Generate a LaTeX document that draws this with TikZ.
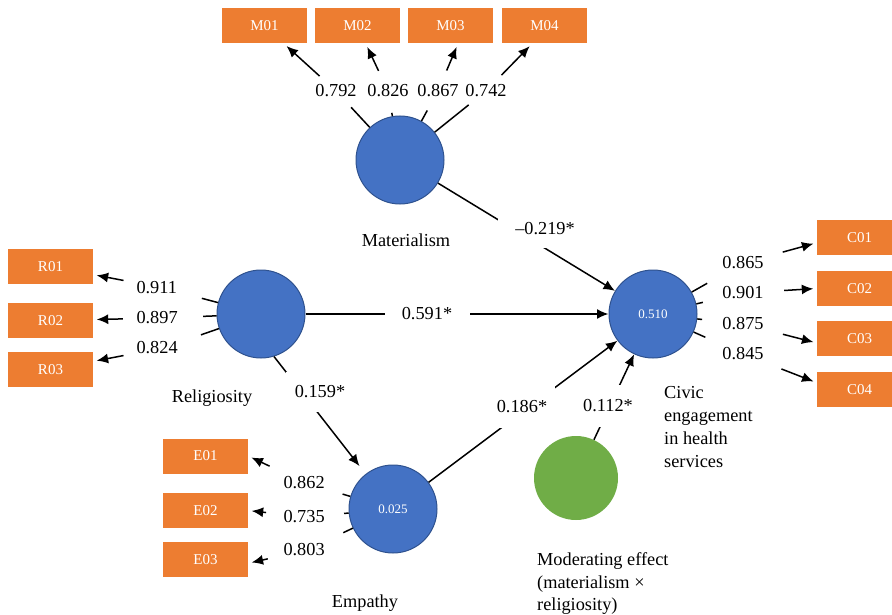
\documentclass[tikz,border=0pt]{standalone}
\usepackage{fontspec}
\setmainfont{Liberation Serif}
\usetikzlibrary{arrows.meta}
\definecolor{orgc}{HTML}{ED7D31}
\definecolor{bluec}{HTML}{4472C4}
\definecolor{blueb}{HTML}{2F528F}
\definecolor{greenc}{HTML}{70AD47}
\newcommand{\mainsz}{\fontsize{18.3pt}{22.7pt}\selectfont}
\newcommand{\boxsz}{\fontsize{15pt}{18pt}\selectfont}
\newcommand{\latsz}{\fontsize{13pt}{15pt}\selectfont}
\tikzset{
  ind/.style={rectangle, fill=orgc, minimum width=85pt, minimum height=35pt, inner sep=0pt, text=white, font=\boxsz},
  lat/.style={circle, fill=bluec, draw=blueb, line width=1pt, minimum size=88pt, inner sep=0pt, text=white, font=\latsz},
  modc/.style={circle, fill=greenc, minimum size=84pt, inner sep=0pt},
  ld/.style={circle, inner sep=0pt, font=\mainsz},
  plbl/.style={rectangle, fill=white, inner sep=0pt, font=\mainsz},
  ln/.style={line width=1.5pt},
  arr/.style={line width=1.5pt, -{Latex[length=11.5pt,width=10pt]}},
  ldarr/.style={arr, shorten >=3.5pt},
  nm/.style={font=\mainsz, inner sep=0pt}
}
\begin{document}
\begin{tikzpicture}[x=1pt,y=-1pt]
\useasboundingbox (0,0) rectangle (892,615);

% indicator boxes
\node[ind] (M01) at (264.5,26) {M01};
\node[ind] (M02) at (357.5,26) {M02};
\node[ind] (M03) at (450.5,26) {M03};
\node[ind] (M04) at (544.5,26) {M04};
\node[ind] (R01) at (50.5,266.5) {R01};
\node[ind] (R02) at (50.5,320.5) {R02};
\node[ind] (R03) at (50.5,369.5) {R03};
\node[ind] (C01) at (859.5,237.5) {C01};
\node[ind] (C02) at (859.5,288.5) {C02};
\node[ind] (C03) at (859.5,338.5) {C03};
\node[ind] (C04) at (859.5,389.5) {C04};
\node[ind] (E01) at (205.5,456) {E01};
\node[ind] (E02) at (205.5,510.5) {E02};
\node[ind] (E03) at (205.5,559.5) {E03};

% latent variables
\node[lat] (Mat) at (400,160) {};
\node[lat] (Rel) at (261,314) {};
\node[lat] (Civ) at (653,314) {0.510};
\node[lat] (Emp) at (393,509) {0.025};
\node[modc] (Mod) at (576,478) {};

% loading labels
\node[ld, minimum size=44pt] (m1) at (336,91) {0.792};
\node[ld, minimum size=44pt] (m2) at (388,91) {0.826};
\node[ld, minimum size=44pt] (m3) at (438,91) {0.867};
\node[ld, minimum size=44pt] (m4) at (486,91) {0.742};
\node[ld, minimum size=80pt] (r1) at (163,288) {\makebox[53pt][l]{0.911}};
\node[ld, minimum size=80pt] (r2) at (163,318) {\makebox[53pt][l]{0.897}};
\node[ld, minimum size=80pt] (r3) at (163,348) {\makebox[53pt][l]{0.824}};
\node[ld, minimum size=82pt] (c1) at (743,263) {0.865};
\node[ld, minimum size=82pt] (c2) at (743,293) {0.901};
\node[ld, minimum size=82pt] (c3) at (743,324) {0.875};
\node[ld, minimum size=82pt] (c4) at (743,354) {0.845};
\node[ld, minimum size=78pt] (e1) at (305,483) {\makebox[43pt][l]{0.862}};
\node[ld, minimum size=78pt] (e2) at (305,517) {\makebox[43pt][l]{0.735}};
\node[ld, minimum size=80pt] (e3) at (307,550) {\makebox[47pt][l]{0.803}};

% loading connectors
\draw[ln] (Mat) -- (m1); \draw[ldarr] (m1) -- (M01);
\draw[ln] (Mat) -- (m2); \draw[ldarr] (m2) -- (M02);
\draw[ln] (Mat) -- (m3); \draw[ldarr] (m3) -- (M03.-67);
\draw[ln] (Mat) -- (m4); \draw[ldarr] (m4) -- (M04.-125);
\draw[ln] (Rel) -- (r1); \draw[ldarr] (r1) -- (R01);
\draw[ln] (Rel) -- (r2); \draw[ldarr] (r2) -- (R02);
\draw[ln] (Rel) -- (r3); \draw[ldarr] (r3) -- (R03);
\draw[ln] (Civ) -- (c1); \draw[ldarr] (c1) -- (C01.187);
\draw[ln] (Civ) -- (c2); \draw[ldarr] (c2) -- (C02.west);
\draw[ln] (Civ) -- (c3); \draw[ldarr] (c3) -- (C03.186);
\draw[ln] (Civ) -- (c4); \draw[ldarr] (c4) -- (C04.171);
\draw[ln] (Emp) -- (e1); \draw[ldarr] (e1) -- (E01.east);
\draw[ln] (Emp) -- (e2); \draw[ldarr] (e2) -- (E02.east);
\draw[ln] (Emp) -- (e3); \draw[ldarr] (e3) -- (E03.-5);

% structural paths
\draw[arr] (Mat) -- (Civ);
\draw[arr] (Rel) -- (Civ);
\draw[arr, shorten >=10pt] (Rel.-73) -- (Emp);
\draw[arr] (Emp) -- (Civ);
\draw[arr] (Mod) -- (Civ);

% path coefficient labels
\node[plbl, minimum width=94pt, minimum height=38pt] (p1) at (545,229) {–0.219*};
\node[plbl, minimum width=85pt, minimum height=20pt] (p2) at (427,314) {0.591*};
\node[plbl, minimum width=68pt, minimum height=40pt] (p3) at (320,392) {0.159*};
\node[plbl, minimum width=66pt, minimum height=42pt] (p4) at (522,407) {0.186*};
\node[plbl, minimum width=60pt, minimum height=42pt] (p5) at (608,406) {0.112*};

% construct names
\node[nm] (tMat) at (406,240) {Materialism};
\node[nm] (tRel) at (212,398) {Religiosity};
\node[nm] (tEmp) at (365,603) {Empathy};
\node[nm, anchor=north west, align=left] (tCiv) at (664,386.6) {Civic\\engagement\\in health\\services};
\node[nm, anchor=north west, align=left] (tMod) at (537,552.5) {Moderating effect\\(materialism ×\\religiosity)};
\end{tikzpicture}
\end{document}
